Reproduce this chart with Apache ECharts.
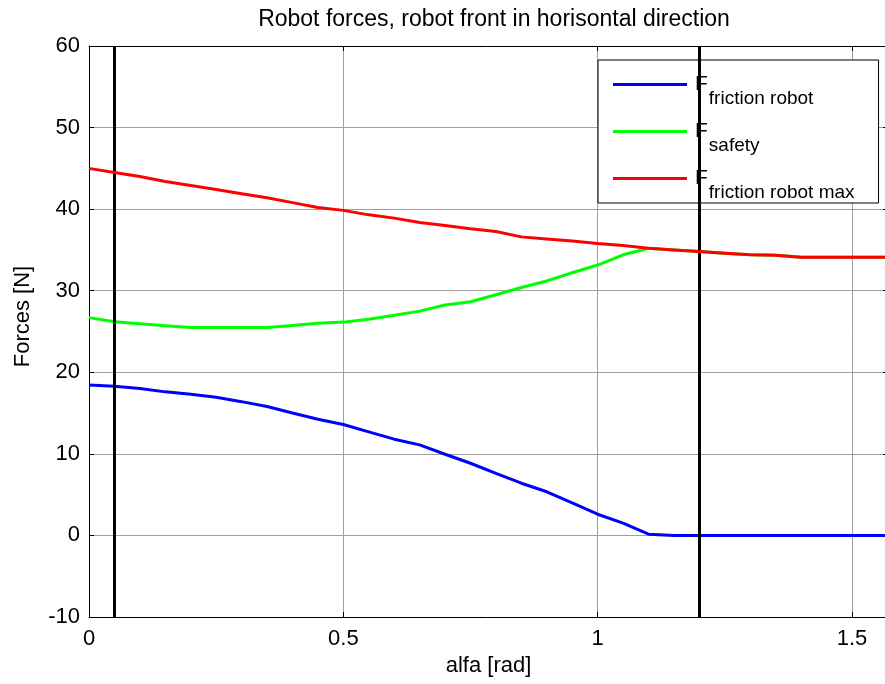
<!DOCTYPE html>
<html>
<head>
<meta charset="utf-8">
<script src="https://cdn.jsdelivr.net/npm/echarts@6/dist/echarts.min.js"></script>
<style>
  html, body { margin: 0; padding: 0; background: #ffffff; }
  #chart { width: 885px; height: 684px; }
</style>
</head>
<body>
<div id="chart"></div>
<script>
// Angle of the robot front (rad)
const alfa = [0, 0.05, 0.1, 0.15, 0.2, 0.25, 0.3, 0.35, 0.4, 0.45, 0.5, 0.55, 0.6, 0.65, 0.7, 0.75,
              0.8, 0.85, 0.9, 0.95, 1.0, 1.05, 1.1, 1.15, 1.2, 1.25, 1.3, 1.35, 1.4, 1.45, 1.5, 1.55, 1.5708];

// Forces (N)
const frictionRobot = [18.45, 18.3, 18.0, 17.6, 17.3, 16.95, 16.4, 15.8, 15.0, 14.25, 13.6, 12.7, 11.8, 11.1, 9.95, 8.85,
                       7.6, 6.4, 5.35, 4.0, 2.6, 1.5, 0.15, 0, 0, 0, 0, 0, 0, 0, 0, 0, 0];
const safety = [26.7, 26.2, 25.95, 25.7, 25.5, 25.5, 25.5, 25.5, 25.75, 26.0, 26.15, 26.5, 27.0, 27.5, 28.25, 28.65,
                29.5, 30.4, 31.2, 32.2, 33.15, 34.4, 35.2, 35.0, 34.8, 34.6, 34.4, 34.35, 34.1, 34.1, 34.1, 34.1, 34.1];
const frictionRobotMax = [45.0, 44.5, 44.0, 43.4, 42.9, 42.4, 41.9, 41.4, 40.8, 40.2, 39.85, 39.3, 38.9, 38.35, 38.0, 37.6,
                          37.25, 36.6, 36.35, 36.1, 35.8, 35.55, 35.2, 35.0, 34.8, 34.6, 34.4, 34.35, 34.1, 34.1, 34.1, 34.1, 34.1];

// Angle limits marked with vertical lines
const limitAngles = [0.05, 1.2];

// Legend subscripts
const seriesNames = ['friction robot', 'safety', 'friction robot max'];
const seriesColors = ['#0000ff', '#00ff00', '#ff0000'];

const FONT = "'Liberation Sans', Arial, Helvetica, sans-serif";
const TICK_SIZE = 22;

const pairs = (ys) => alfa.map((x, i) => [x, ys[i]]);
const seriesData = [frictionRobot, safety, frictionRobotMax];

const chart = echarts.init(document.getElementById('chart'), null, { renderer: 'canvas' });

const lineSeries = seriesData.map((ys, i) => ({
  name: seriesNames[i],
  type: 'line',
  data: pairs(ys),
  showSymbol: false,
  symbol: 'none',
  lineStyle: { color: seriesColors[i], width: 3 },
  itemStyle: { color: seriesColors[i] },
  animation: false,
  z: 3 + i
}));

// Vertical limit lines drawn on top of the curves
lineSeries.push({
  name: 'limits',
  type: 'line',
  data: [],
  z: 10,
  animation: false,
  markLine: {
    silent: true,
    symbol: ['none', 'none'],
    label: { show: false },
    lineStyle: { color: '#000000', width: 3, type: 'solid' },
    data: limitAngles.map(a => ({ xAxis: a })),
    animation: false
  }
});

const tickLabelFmt = (v) => {
  const r = Math.round(v * 2) / 2;
  return Math.abs(v - r) < 1e-9 ? String(r) : '';
};

chart.setOption({
  backgroundColor: '#ffffff',
  animation: false,
  textStyle: { fontFamily: FONT },
  title: {
    text: 'Robot forces, robot front in horisontal direction',
    left: 489,
    textAlign: 'center',
    top: 3,
    textStyle: { fontFamily: FONT, fontSize: 23, fontWeight: 'normal', color: '#000000' }
  },
  grid: { left: 89, top: 46, right: -3, bottom: 67, containLabel: false, outerBoundsMode: 'none' },
  legend: {
    orient: 'vertical',
    left: 598,
    top: 60,
    icon: 'rect',
    itemWidth: 74,
    itemHeight: 3,
    itemGap: 13,
    padding: [14, 24, 1, 15],
    backgroundColor: '#ffffff',
    borderColor: '#000000',
    borderWidth: 1,
    borderRadius: 0,
    selectedMode: false,
    data: seriesNames,
    formatter: (name) => '{F|F}{s|' + name + '}',
    textStyle: {
      color: '#000000',
      fontFamily: FONT,
      rich: {
        F: { fontSize: 21, fontFamily: FONT, color: '#000', padding: [0, 0, 0, 3] },
        s: { fontSize: 19, fontFamily: FONT, color: '#000', padding: [28, 0, 0, 1] }
      }
    }
  },
  xAxis: [{
    type: 'value',
    min: 0,
    max: Math.PI / 2,
    interval: 0.5,
    name: 'alfa [rad]',
    nameLocation: 'middle',
    nameGap: 26,
    nameTextStyle: { fontFamily: FONT, fontSize: TICK_SIZE, color: '#000' },
    axisLine: { show: true, onZero: false, lineStyle: { color: '#000', width: 1 } },
    axisTick: { show: true, inside: true, length: 5, lineStyle: { color: '#000' } },
    axisLabel: { fontFamily: FONT, fontSize: TICK_SIZE, color: '#000', margin: 11, formatter: tickLabelFmt },
    splitLine: { show: true, lineStyle: { color: '#a0a0a0', width: 1 } }
  }, {
    type: 'value',
    position: 'top',
    min: 0,
    max: Math.PI / 2,
    interval: 0.5,
    axisLine: { show: true, onZero: false, lineStyle: { color: '#000', width: 1 } },
    axisTick: { show: true, inside: true, length: 5, lineStyle: { color: '#000' } },
    axisLabel: { show: false },
    splitLine: { show: false }
  }],
  yAxis: [{
    type: 'value',
    min: -10,
    max: 60,
    interval: 10,
    name: 'Forces [N]',
    nameLocation: 'middle',
    nameGap: 55,
    nameTextStyle: { fontFamily: FONT, fontSize: TICK_SIZE, color: '#000', padding: [0, 0, 0, 30] },
    axisLine: { show: true, onZero: false, lineStyle: { color: '#000', width: 1 } },
    axisTick: { show: true, inside: true, length: 5, lineStyle: { color: '#000' } },
    axisLabel: { fontFamily: FONT, fontSize: TICK_SIZE, color: '#000', margin: 9 },
    splitLine: { show: true, lineStyle: { color: '#a0a0a0', width: 1 } }
  }, {
    type: 'value',
    position: 'right',
    min: -10,
    max: 60,
    interval: 10,
    axisLine: { show: true, onZero: false, lineStyle: { color: '#000', width: 1 } },
    axisTick: { show: true, inside: true, length: 5, lineStyle: { color: '#000' } },
    axisLabel: { show: false },
    splitLine: { show: false }
  }],
  series: lineSeries
});
</script>
</body>
</html>
